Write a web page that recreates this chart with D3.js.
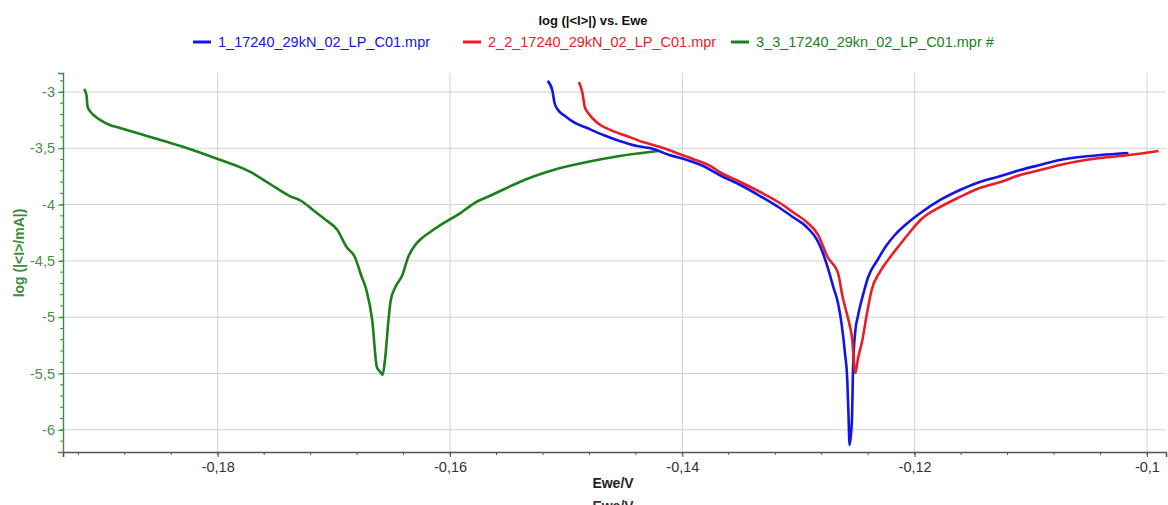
<!DOCTYPE html>
<html>
<head>
<meta charset="utf-8">
<title>log (|&lt;I&gt;|) vs. Ewe</title>
<script src="https://cdn.jsdelivr.net/npm/d3@7/dist/d3.min.js"></script>
<style>
  body { margin: 0; background: #fff; }
  svg { display: block; font-family: "Liberation Sans", Arial, sans-serif; }
</style>
</head>
<body>
<svg id="chart" width="1168" height="505"></svg>
<script>
// series names + colours
var seriesNames = ["1_17240_29kN_02_LP_C01.mpr", "2_2_17240_29kN_02_LP_C01.mpr", "3_3_17240_29kn_02_LP_C01.mpr #"];
var seriesColors = ["#1414e6", "#ec1c24", "#1b7f1b"];

// Ewe/V , log(|I|/mA)
var ewe1 = [-0.1516,-0.1512,-0.1510,-0.1507,-0.1501,-0.1494,-0.1482,-0.1468,-0.1454,-0.1439,-0.1425,-0.1411,-0.1396,-0.1382,-0.1368,-0.1350,-0.1333,-0.1316,-0.1305,-0.1293,-0.1284,-0.1279,-0.1275,-0.1270,-0.1266,-0.1263,-0.1260,-0.1258,-0.1257,-0.1256,-0.1254,-0.1253,-0.1251,-0.1249,-0.1244,-0.1240,-0.1232,-0.1224,-0.1217,-0.1206,-0.1195,-0.1178,-0.1161,-0.1144,-0.1126,-0.1109,-0.1092,-0.1075,-0.1058,-0.1040,-0.1016];
var logI1 = [-2.902,-2.982,-3.098,-3.160,-3.213,-3.266,-3.320,-3.382,-3.435,-3.480,-3.506,-3.560,-3.604,-3.657,-3.737,-3.826,-3.924,-4.030,-4.110,-4.199,-4.314,-4.430,-4.554,-4.732,-4.874,-5.052,-5.318,-5.558,-5.851,-6.135,-5.913,-5.442,-5.114,-4.998,-4.785,-4.643,-4.492,-4.359,-4.270,-4.163,-4.075,-3.959,-3.870,-3.799,-3.746,-3.693,-3.648,-3.604,-3.577,-3.560,-3.542];

var ewe2 = [-0.1489,-0.1486,-0.1484,-0.1481,-0.1473,-0.1462,-0.1448,-0.1434,-0.1419,-0.1405,-0.1391,-0.1376,-0.1368,-0.1350,-0.1333,-0.1316,-0.1305,-0.1293,-0.1283,-0.1275,-0.1266,-0.1262,-0.1257,-0.1254,-0.1251,-0.1249,-0.1245,-0.1241,-0.1237,-0.1230,-0.1221,-0.1213,-0.1204,-0.1195,-0.1178,-0.1161,-0.1144,-0.1126,-0.1109,-0.1092,-0.1075,-0.1058,-0.1040,-0.1015,-0.0990];
var logI2 = [-2.911,-3.009,-3.133,-3.187,-3.275,-3.337,-3.391,-3.444,-3.488,-3.542,-3.595,-3.657,-3.710,-3.799,-3.888,-3.986,-4.066,-4.155,-4.270,-4.465,-4.607,-4.821,-5.025,-5.176,-5.496,-5.380,-5.202,-4.963,-4.758,-4.599,-4.465,-4.359,-4.243,-4.137,-4.021,-3.932,-3.853,-3.799,-3.737,-3.693,-3.648,-3.613,-3.586,-3.560,-3.524];

var ewe3 = [-0.1915,-0.1913,-0.1912,-0.1907,-0.1901,-0.1893,-0.1884,-0.1858,-0.1832,-0.1800,-0.1772,-0.1755,-0.1738,-0.1728,-0.1718,-0.1708,-0.1697,-0.1689,-0.1682,-0.1676,-0.1672,-0.1667,-0.1663,-0.1660,-0.1658,-0.1656,-0.1653,-0.1651,-0.1647,-0.1641,-0.1636,-0.1630,-0.1626,-0.1617,-0.1604,-0.1591,-0.1579,-0.1566,-0.1553,-0.1540,-0.1511,-0.1482,-0.1454,-0.1421];
var logI3 = [-2.973,-3.027,-3.133,-3.204,-3.249,-3.293,-3.320,-3.400,-3.480,-3.595,-3.710,-3.817,-3.924,-3.968,-4.048,-4.128,-4.226,-4.377,-4.465,-4.643,-4.758,-5.025,-5.442,-5.487,-5.513,-5.380,-5.025,-4.847,-4.732,-4.625,-4.465,-4.359,-4.314,-4.243,-4.155,-4.075,-3.986,-3.924,-3.861,-3.799,-3.693,-3.622,-3.568,-3.524];

var xTicks = [-0.18, -0.16, -0.14, -0.12, -0.1];
var yTicks = [-3, -3.5, -4, -4.5, -5, -5.5, -6];

var svg = d3.select("#chart");
var plotL = 63, plotR = 1166, plotT = 73, plotB = 452;

var x = d3.scaleLinear().domain([-0.19332, -0.09836]).range([plotL, plotR]);
var y = d3.scaleLinear().domain([-6.197, -2.8313]).range([plotB, plotT]);

function fmt(v) { return String(+v.toFixed(2)).replace(".", ","); }

// grid
svg.append("g").selectAll("line").data(xTicks).enter().append("line")
    .attr("x1", function(d){ return x(d); }).attr("x2", function(d){ return x(d); })
    .attr("y1", plotT).attr("y2", plotB)
    .style("stroke", "#d2d2d2").style("stroke-width", 1);
svg.append("g").selectAll("line").data(yTicks).enter().append("line")
    .attr("x1", plotL).attr("x2", plotR)
    .attr("y1", function(d){ return y(d); }).attr("y2", function(d){ return y(d); })
    .style("stroke", "#d2d2d2").style("stroke-width", 1);

// minor ticks
var xMinor = d3.range(-0.192, -0.098, 0.004).filter(function(d){ return x(d) > plotL + 2; });
svg.append("g").selectAll("line").data(xMinor).enter().append("line")
    .attr("x1", function(d){ return x(d); }).attr("x2", function(d){ return x(d); })
    .attr("y1", plotB).attr("y2", plotB + 3)
    .style("stroke", "#555").style("stroke-width", 1);
var yMinor = d3.range(-6.1, -2.85, 0.1);
svg.append("g").selectAll("line").data(yMinor).enter().append("line")
    .attr("x1", plotL - 3).attr("x2", plotL)
    .attr("y1", function(d){ return y(d); }).attr("y2", function(d){ return y(d); })
    .style("stroke", "#3c8c3c").style("stroke-width", 1);

// axes
var xAxis = svg.append("g").attr("transform", "translate(0," + plotB + ")")
    .call(d3.axisBottom(x).tickValues(xTicks).tickFormat(fmt).tickSize(5).tickPadding(5));
xAxis.select(".domain").style("stroke", "#555").style("stroke-width", 1.6);
xAxis.selectAll(".tick line").style("stroke", "#555");
xAxis.selectAll("text").style("font-size", "14.5px").style("fill", "#333")
    .style("font-family", "Liberation Sans, Arial, sans-serif");

var yAxis = svg.append("g").attr("transform", "translate(" + plotL + ",0)")
    .call(d3.axisLeft(y).tickValues(yTicks).tickFormat(fmt).tickSize(5).tickPadding(3));
yAxis.select(".domain").style("stroke", "#3c8c3c").style("stroke-width", 1.4);
yAxis.selectAll(".tick line").style("stroke", "#3c8c3c");
yAxis.selectAll("text").style("font-size", "14.5px").style("fill", "#4a8f4a")
    .style("font-family", "Liberation Sans, Arial, sans-serif");

// curves
var line = d3.line().curve(d3.curveMonotoneX)
    .x(function(d){ return x(d[0]); }).y(function(d){ return y(d[1]); });
var curves = [d3.zip(ewe3, logI3), d3.zip(ewe1, logI1), d3.zip(ewe2, logI2)];
var curveColors = [seriesColors[2], seriesColors[0], seriesColors[1]];
svg.append("g").selectAll("path").data(curves).enter().append("path")
    .attr("d", line)
    .style("fill", "none")
    .style("stroke", function(d, i){ return curveColors[i]; })
    .style("stroke-width", 2.6)
    .style("stroke-linejoin", "round");

// titles
svg.append("text").attr("x", 593).attr("y", 25).attr("text-anchor", "middle")
    .style("font-size", "13px").style("font-weight", "bold").style("fill", "#111")
    .text("log (|<I>|) vs. Ewe");

svg.append("text").attr("transform", "translate(24,253) rotate(-90)").attr("text-anchor", "middle")
    .style("font-size", "14px").style("font-weight", "bold").style("fill", "#3c8c3c")
    .text("log (|<I>/mA|)");

svg.append("text").attr("x", 613).attr("y", 488).attr("text-anchor", "middle")
    .style("font-size", "14px").style("font-weight", "bold").style("fill", "#222")
    .text("Ewe/V");
// second, clipped axis title as in the original export
svg.append("text").attr("x", 613).attr("y", 511).attr("text-anchor", "middle")
    .style("font-size", "14px").style("font-weight", "bold").style("fill", "#333")
    .text("Ewe/V");

// legend
var legX = [193, 463, 731];
var leg = svg.append("g").selectAll("g").data(seriesNames).enter().append("g")
    .attr("transform", function(d, i){ return "translate(" + legX[i] + ",42)"; });
leg.append("line").attr("x1", 0).attr("x2", 18).attr("y1", 0).attr("y2", 0)
    .style("stroke", function(d, i){ return seriesColors[i]; }).style("stroke-width", 3);
leg.append("text").attr("x", 25).attr("y", 5)
    .style("font-size", "14.5px")
    .style("fill", function(d, i){ return seriesColors[i]; })
    .text(function(d){ return d; });
</script>
</body>
</html>
